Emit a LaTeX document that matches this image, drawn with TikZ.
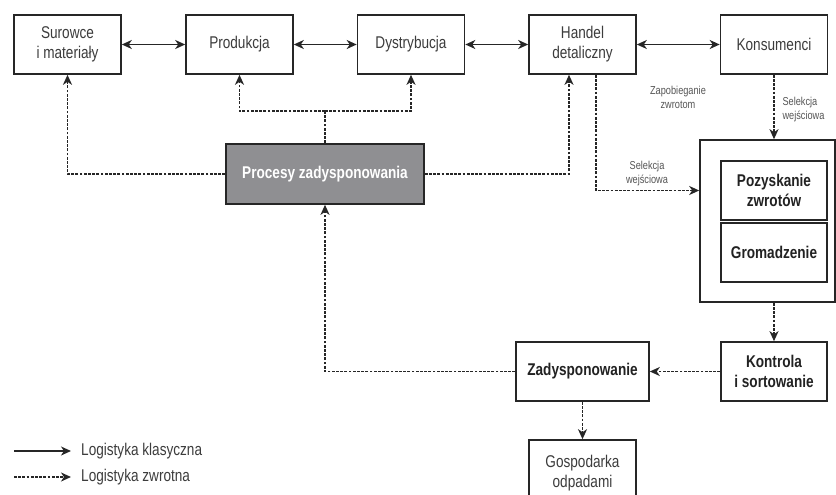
\documentclass[tikz,border=0pt]{standalone}
\usepackage{fontspec}
\setmainfont{Liberation Sans}[FakeStretch=0.8]
\usetikzlibrary{arrows.meta}
\definecolor{ink}{HTML}{262626}
\definecolor{txt}{HTML}{3C3C3C}
\definecolor{darktxt}{HTML}{222222}
\definecolor{notetxt}{HTML}{555555}
\definecolor{procfill}{HTML}{8F8F92}
\tikzset{
  flowtip/.tip={Stealth[length=10pt,width=9pt,inset=3pt]}
}
\begin{document}
\begin{tikzpicture}[x=1pt,y=-1pt,
  box/.style={draw=ink, line width=1.6pt, fill=white, minimum width=107pt,
    minimum height=59pt, align=center, inner sep=2pt, text=txt,
    font=\fontsize{17}{20}\selectfont},
  boldbox/.style={box, text=darktxt, font=\fontsize{17}{20}\selectfont\bfseries},
  cls/.style={draw=ink, line width=1.6pt, flowtip-flowtip},
  retline/.style={draw=ink, line width=1.7pt, dash pattern=on 2.8pt off 1.4pt},
  ret/.style={retline, -flowtip},
  note/.style={align=center, text=notetxt, font=\fontsize{11.5}{14}\selectfont},
  legend/.style={anchor=west, inner xsep=10pt, inner ysep=0pt, text=txt,
    font=\fontsize{17}{20}\selectfont}]
\clip (0,0) rectangle (836,495);

% classic supply chain
\node[box] (sur) at (67.5,44.5) {Surowce\\i materiały};
\node[box] (prod) at (239.5,44.5) {Produkcja};
\node[box] (dys) at (411,44.5) {Dystrybucja};
\node[box] (han) at (582.5,44.5) {Handel\\detaliczny};
\node[box] (kon) at (774,44.5) {Konsumenci};

% disposition processes
\node[box, fill=procfill, minimum width=198pt, minimum height=60pt, text=white,
  font=\fontsize{17}{20}\selectfont\bfseries] (proc) at (325,174) {Procesy zadysponowania};

% returns collection block
\node[draw=ink, line width=1.6pt, minimum width=135pt, minimum height=162pt] (big) at (767.5,221) {};
\node[boldbox, minimum width=106pt] (poz) at (774,190.5) {Pozyskanie\\zwrotów};
\node[boldbox, minimum width=106pt] (gro) at (774,252.5) {Gromadzenie};

% sorting and disposition
\node[boldbox, minimum width=106pt] (kont) at (774,371.5) {Kontrola\\i sortowanie};
\node[boldbox, minimum width=133pt] (zad) at (582.5,371.5) {Zadysponowanie};
\node[box, minimum height=66pt] (gos) at (582.5,473) {Gospodarka\\odpadami};

% classic flows
\draw[cls] (sur.east) -- (prod.west);
\draw[cls] (prod.east) -- (dys.west);
\draw[cls] (dys.east) -- (han.west);
\draw[cls] (han.east) -- (kon.west);

% reverse flows
\coordinate (pj) at (325,111);
\draw[retline] (proc.north) -- (pj);
\draw[ret] (pj) -| (prod.south);
\draw[ret] (pj) -| (dys.south);
\draw[ret] (proc.west) -| (sur.south);
\draw[ret] (proc.east) -| ([xshift=-13.5pt]han.south);
\draw[ret] ([xshift=13.5pt]han.south) |- (poz.west -| big.west);
\draw[ret] (kon.south) -- (kon.south |- big.north);
\draw[ret] (kont.north |- big.south) -- (kont.north);
\draw[ret] (kont.west) -- (zad.east);
\draw[ret] (zad.west) -| (proc.south);
\draw[ret] (zad.south) -- (gos.north);

% annotations
\node[note] (zap) at (678,97) {Zapobieganie\\zwrotom};
\node[note, align=left, anchor=west] (sel1) at (779,110) {Selekcja\\wejściowa};
\node[note] (sel2) at (647,174) {Selekcja\\wejściowa};

% legend
\coordinate (l1s) at (14,451);
\coordinate (l2s) at (14,477);
\node[legend] (l1) at (71,451) {Logistyka klasyczna};
\node[legend] (l2) at (71,477) {Logistyka zwrotna};
\draw[draw=ink, line width=1.6pt, -flowtip] (l1s) -- (l1.west);
\draw[ret] (l2s) -- (l2.west);
\end{tikzpicture}
\end{document}
